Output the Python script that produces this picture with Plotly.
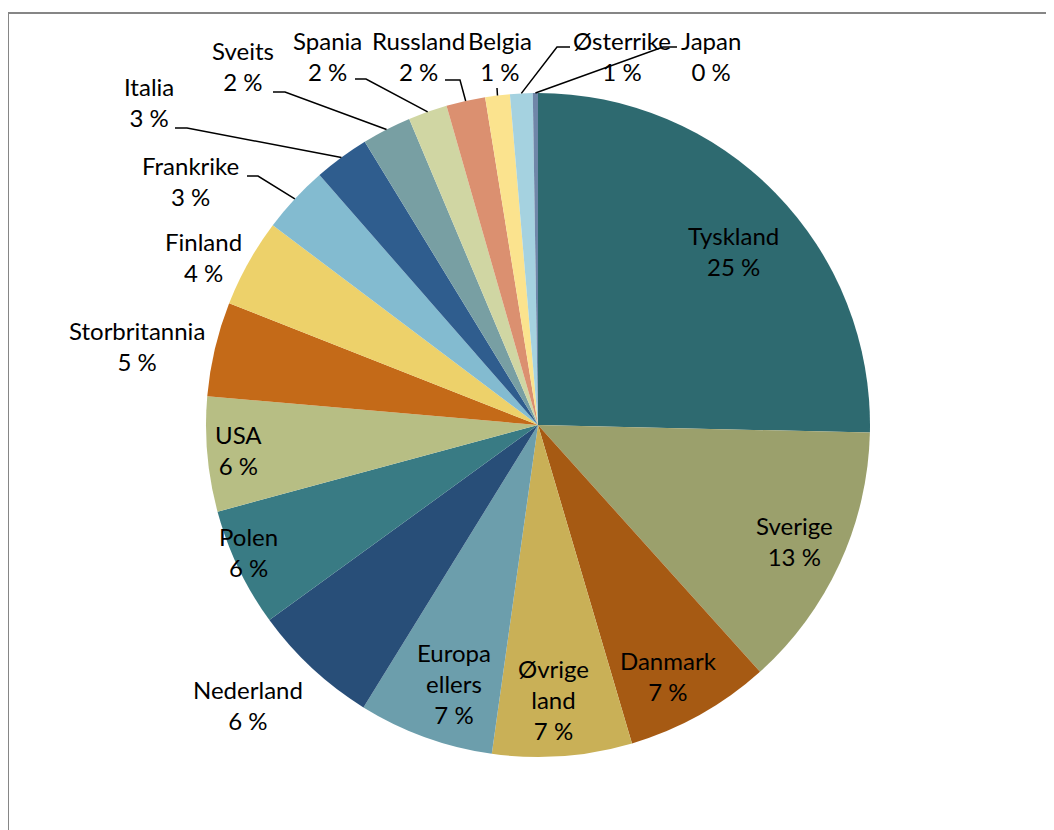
import math
import plotly.graph_objects as go

# ---- data ----
countries = ["Tyskland", "Sverige", "Danmark", "Øvrige land", "Europa ellers",
             "Nederland", "Polen", "USA", "Storbritannia", "Finland", "Frankrike",
             "Italia", "Sveits", "Spania", "Russland", "Belgia", "Østerrike", "Japan"]
shares = [25.4, 13.0, 7.1, 6.8, 6.6, 6.2, 5.8, 5.6, 4.6, 4.3, 3.3,
          2.7, 2.4, 1.9, 1.9, 1.2, 1.1, 0.25]

# ---- style ----
colors = ["#2E6A70", "#9BA06C", "#A65A13", "#C9B057", "#6C9EAC", "#284E78",
          "#397B84", "#B7BE84", "#C46A18", "#EDD16A", "#83BBD0", "#2F5D8E",
          "#789FA3", "#D0D6A3", "#DB9070", "#FBE38E", "#A5D2E0", "#6F86A8"]

W, H = 1054, 830
OFF = 8  # page body margin of the browser
CX, CY, R = 538, 425, 332

# label block centres (screen pixels)
label_pos = {
    "Tyskland": (733, 251), "Sverige": (794, 541), "Danmark": (669, 676),
    "Øvrige land": (553, 699), "Europa ellers": (454, 683), "Nederland": (248, 705),
    "Polen": (248, 552), "USA": (238, 450), "Storbritannia": (137, 346),
    "Finland": (203, 257), "Frankrike": (190, 181), "Italia": (149, 102),
    "Sveits": (243, 66), "Spania": (327, 56), "Russland": (418, 56),
    "Belgia": (500, 56), "Østerrike": (622, 56), "Japan": (711, 56),
}
# leader line start + elbow points (screen pixels)
leaders = {
    "Frankrike": [(247, 176), (258, 176)],
    "Italia": [(175, 128), (187, 128)],
    "Sveits": [(273, 92), (285, 92)],
    "Spania": [(355, 79), (366, 79)],
    "Russland": [(445, 80), (460, 80)],
    "Belgia": [(497, 88)],
    "Østerrike": [(570, 47), (557, 47)],
    "Japan": [(677, 47), (663, 47)],
}


def px(x):
    return (x - OFF) / W


def py(y):
    return 1 - (y - OFF) / H


fig = go.Figure(go.Pie(
    labels=countries, values=shares, sort=False, direction="clockwise",
    rotation=0, marker=dict(colors=colors, line=dict(width=0)),
    textinfo="none", hoverinfo="skip", showlegend=False,
    domain=dict(x=[px(CX - R), px(CX + R)], y=[py(CY + R), py(CY - R)]),
))

total = sum(shares)
annotations = []
shapes = []
cum = 0.0
for name, v in zip(countries, shares):
    ang = (cum + v / 2) / total * 2 * math.pi
    cum += v
    pct = round(100 * v / total)
    text = name.replace(" ", "<br>") + "<br>" + f"{pct} %"
    lx, ly = label_pos[name]
    annotations.append(dict(
        x=px(lx), y=py(ly), xref="paper", yref="paper", text=text,
        showarrow=False, xanchor="center", yanchor="middle", align="center",
        font=dict(family="Lato, 'Liberation Sans', sans-serif", size=24, color="#000000"),
    ))
    if name in leaders:
        ex = CX + R * math.sin(ang)
        ey = CY - R * math.cos(ang)
        pts = leaders[name] + [(ex, ey)]
        path = "M " + " L ".join(f"{px(a):.5f},{py(b):.5f}" for a, b in pts)
        shapes.append(dict(type="path", xref="paper", yref="paper", path=path,
                           line=dict(color="#000000", width=1.5)))

# outer chart border
shapes.append(dict(type="rect", xref="paper", yref="paper",
                   x0=px(8), x1=1.02, y0=-0.02, y1=py(13),
                   line=dict(color="#868686", width=2)))

fig.update_layout(
    width=W, height=H, margin=dict(l=0, r=0, t=0, b=0),
    paper_bgcolor="white", plot_bgcolor="white",
    annotations=annotations, shapes=shapes,
)

fig.write_html("out.html")
